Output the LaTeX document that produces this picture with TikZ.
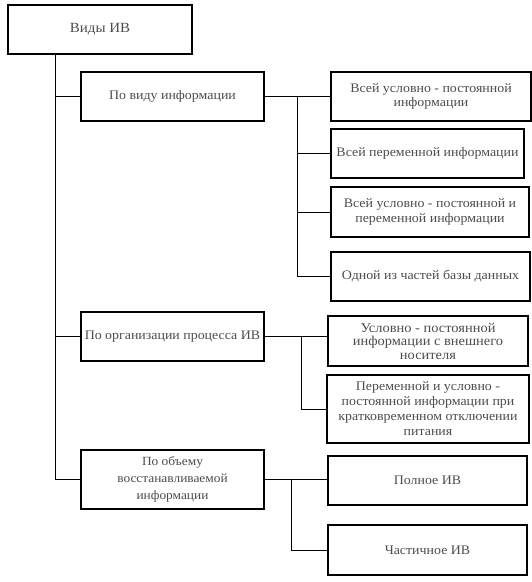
\documentclass[tikz,border=0pt]{standalone}
\usepackage{fontspec}
\setmainfont[FakeStretch=1.07]{Liberation Serif}
\begin{document}
\begin{tikzpicture}[x=1pt,y=-1pt,
  box/.style={draw=black,line width=1.4pt,rectangle,inner sep=2pt,align=center,
    text=black!70,font=\fontsize{13}{14.5}\selectfont},
  link/.style={draw=black,line width=1pt}]
\useasboundingbox (0,0) rectangle (532,582);
\node[box,minimum width=184pt,minimum height=49pt,font=\fontsize{14}{15}\selectfont] (top) at (100,29.5) {Виды ИВ};
\node[box,minimum width=183pt,minimum height=49pt] (cat1) at (172.5,96.5) {По виду информации};
\node[box,minimum width=183pt,minimum height=49pt] (cat2) at (172.5,336.5) {По организации процесса ИВ};
\node[box,minimum width=183pt,minimum height=59pt,font=\fontsize{12.5}{17}\selectfont] (cat3) at (172.5,479.5) {По объему\\восстанавливаемой\\информации};
\node[box,minimum width=200pt,minimum height=49pt] (s1) at (431,96.5) {Всей условно - постоянной\\информации};
\node[box,minimum width=193pt,minimum height=49pt] (s2) at (427.5,153.5) {Всей переменной информации};
\node[box,minimum width=198pt,minimum height=50pt] (s3) at (430,212) {Всей условно - постоянной и\\переменной информации};
\node[box,minimum width=199pt,minimum height=49pt] (s4) at (430.5,276.5) {Одной из частей базы данных};
\node[box,minimum width=200pt,minimum height=50pt,font=\fontsize{13.5}{13.5}\selectfont] (s5) at (428,341) {Условно - постоянной\\информации с внешнего\\носителя};
\node[box,minimum width=202pt,minimum height=68pt,font=\fontsize{13}{15}\selectfont] (s6) at (428,409) {Переменной и условно -\\постоянной информации при\\кратковременном отключении\\питания};
\node[box,minimum width=199pt,minimum height=49pt] (s7) at (427.5,480.5) {Полное ИВ};
\node[box,minimum width=199pt,minimum height=50pt] (s8) at (427.5,550) {Частичное ИВ};
\coordinate (tr) at (55,0);
\coordinate (j1) at (297,0);
\coordinate (j2) at (301,0);
\coordinate (j3) at (291,0);
\draw[link] (top.south -| tr) |- (cat1.west);
\draw[link] (top.south -| tr) |- (cat2.west);
\draw[link] (top.south -| tr) |- (cat3.west);
\draw[link] (cat1.east) -- (cat1.east -| s1.west);
\draw[link] (cat1.east -| j1) |- (s2.west);
\draw[link] (cat1.east -| j1) |- (s3.west);
\draw[link] (cat1.east -| j1) |- (s4.west);
\draw[link] (cat2.east) -- (cat2.east -| s5.west);
\draw[link] (cat2.east -| j2) |- (s6.west);
\draw[link] (cat3.east) -- (cat3.east -| s7.west);
\draw[link] (cat3.east -| j3) |- (s8.west);
\end{tikzpicture}
\end{document}
